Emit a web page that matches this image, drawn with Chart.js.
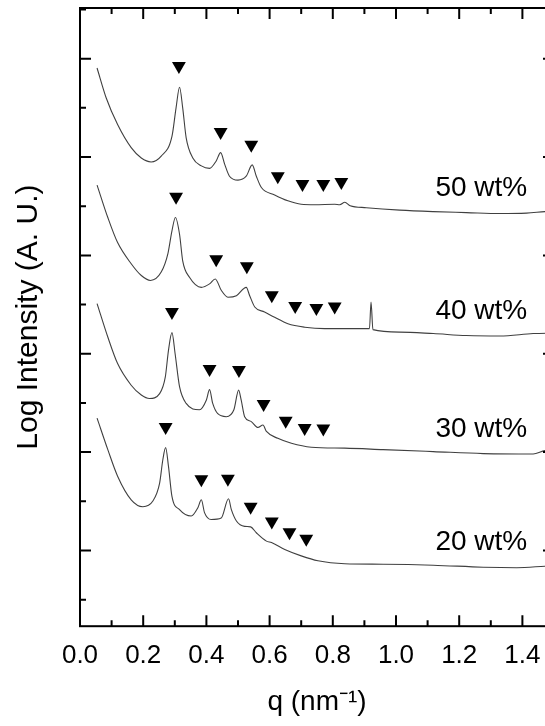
<!DOCTYPE html>
<html lang="en">
<head>
<meta charset="UTF-8">
<title>SAXS profiles</title>
<script src="https://cdn.jsdelivr.net/npm/chart.js"></script>
<style>
  html, body { margin: 0; padding: 0; background: #fff; overflow: hidden; }
</style>
</head>
<body>
<canvas id="saxs" width="570" height="740"></canvas>
<script>
// q (nm^-1) and log intensity (arbitrary, offset per sample)
const Q_50 = [0.054, 0.083, 0.119, 0.162, 0.194, 0.225, 0.257, 0.291, 0.304, 0.315, 0.325, 0.336, 0.357, 0.384, 0.410, 0.431, 0.445, 0.458, 0.473, 0.500, 0.526, 0.545, 0.558, 0.574, 0.616, 0.658, 0.700, 0.743, 0.806, 0.822, 0.838, 0.855, 0.906, 1.012, 1.118, 1.223, 1.329, 1.413, 1.471, 1.500];
const I_50 = [10.81, 10.20, 9.66, 9.19, 8.98, 8.90, 9.02, 9.42, 10.00, 10.42, 10.00, 9.39, 8.98, 8.82, 8.77, 8.92, 9.09, 8.85, 8.61, 8.53, 8.61, 8.84, 8.61, 8.38, 8.23, 8.11, 8.04, 8.03, 8.04, 8.03, 8.08, 8.01, 7.97, 7.92, 7.89, 7.87, 7.85, 7.86, 7.89, 7.90];

const Q_40 = [0.054, 0.088, 0.119, 0.162, 0.194, 0.223, 0.257, 0.278, 0.291, 0.302, 0.315, 0.325, 0.347, 0.384, 0.410, 0.428, 0.447, 0.468, 0.495, 0.526, 0.537, 0.553, 0.584, 0.616, 0.658, 0.711, 0.774, 0.838, 0.916, 0.921, 0.927, 1.012, 1.118, 1.223, 1.329, 1.434, 1.500];
const I_40 = [8.43, 7.77, 7.26, 6.83, 6.59, 6.49, 6.66, 7.03, 7.50, 7.77, 7.43, 6.89, 6.55, 6.35, 6.42, 6.52, 6.29, 6.15, 6.18, 6.35, 6.18, 5.95, 5.85, 5.74, 5.61, 5.54, 5.51, 5.51, 5.51, 6.05, 5.49, 5.44, 5.41, 5.37, 5.36, 5.41, 5.42];

const Q_30 = [0.054, 0.088, 0.119, 0.162, 0.194, 0.220, 0.252, 0.270, 0.280, 0.291, 0.301, 0.315, 0.336, 0.378, 0.400, 0.410, 0.420, 0.436, 0.463, 0.487, 0.502, 0.510, 0.521, 0.542, 0.563, 0.579, 0.590, 0.626, 0.669, 0.732, 0.838, 0.959, 1.118, 1.276, 1.434, 1.471, 1.500];
const I_30 = [6.02, 5.34, 4.80, 4.36, 4.16, 4.09, 4.19, 4.53, 5.07, 5.43, 5.00, 4.33, 3.99, 3.86, 4.06, 4.27, 3.99, 3.78, 3.72, 3.86, 4.26, 4.06, 3.72, 3.62, 3.50, 3.55, 3.42, 3.28, 3.18, 3.10, 3.08, 3.05, 3.01, 2.97, 2.96, 3.03, 3.04];

const Q_20 = [0.054, 0.088, 0.119, 0.162, 0.199, 0.230, 0.252, 0.262, 0.271, 0.280, 0.291, 0.315, 0.352, 0.373, 0.384, 0.394, 0.415, 0.447, 0.470, 0.479, 0.495, 0.521, 0.540, 0.558, 0.590, 0.606, 0.648, 0.700, 0.753, 0.838, 0.959, 1.118, 1.276, 1.382, 1.471, 1.500];
const I_20 = [3.69, 3.05, 2.51, 2.03, 1.89, 2.00, 2.37, 2.84, 3.09, 2.71, 2.10, 1.83, 1.70, 1.87, 2.03, 1.77, 1.63, 1.66, 2.05, 1.83, 1.60, 1.49, 1.48, 1.36, 1.19, 1.16, 1.02, 0.89, 0.79, 0.73, 0.72, 0.70, 0.66, 0.65, 0.68, 0.69];

// peak markers (down triangles)
const PEAK_Q_50 = [0.313, 0.445, 0.542, 0.626, 0.704, 0.770, 0.827];
const PEAK_I_50 = [10.85, 9.51, 9.25, 8.61, 8.45, 8.45, 8.49];
const PEAK_Q_40 = [0.304, 0.431, 0.528, 0.607, 0.681, 0.748, 0.806];
const PEAK_I_40 = [8.19, 6.92, 6.78, 6.19, 5.97, 5.93, 5.96];
const PEAK_Q_30 = [0.291, 0.410, 0.503, 0.581, 0.651, 0.711, 0.770];
const PEAK_I_30 = [5.85, 4.69, 4.67, 3.98, 3.64, 3.49, 3.48];
const PEAK_Q_20 = [0.271, 0.384, 0.468, 0.540, 0.607, 0.663, 0.716];
const PEAK_I_20 = [3.51, 2.45, 2.46, 1.89, 1.59, 1.37, 1.24];

const SAMPLES = ['50 wt%', '40 wt%', '30 wt%', '20 wt%'];
const X_TICKS = [0, 0.1, 0.2, 0.3, 0.4, 0.5, 0.6, 0.7, 0.8, 0.9, 1.0, 1.1, 1.2, 1.3, 1.4, 1.5];
const X_TICK_LABELS = ['0.0', '', '0.2', '', '0.4', '', '0.6', '', '0.8', '', '1.0', '', '1.2', '', '1.4', ''];
const Y_TICKS = [0, 1, 2, 3, 4, 5, 6, 7, 8, 9, 10, 11, 12];
const LABEL_Q = 1.27;

const FONT = "'Liberation Sans', Arial, sans-serif";
Chart.defaults.font.family = FONT;
Chart.defaults.color = '#000';

const curves = [[Q_50, I_50], [Q_40, I_40], [Q_30, I_30], [Q_20, I_20]];
const peaks = [[PEAK_Q_50, PEAK_I_50], [PEAK_Q_40, PEAK_I_40], [PEAK_Q_30, PEAK_I_30], [PEAK_Q_20, PEAK_I_20]];
const toXY = (qs, is) => qs.map((q, i) => ({ x: q, y: is[i] }));

const datasets = [];
curves.forEach(([q, v], k) => {
    datasets.push({
        label: SAMPLES[k],
        data: toXY(q, v),
        showLine: true,
        borderColor: '#404040',
        borderWidth: 1.1,
        pointRadius: 0,
        cubicInterpolationMode: 'monotone'
    });
});
peaks.forEach(([q, v], k) => {
    datasets.push({
        label: SAMPLES[k] + ' peaks',
        data: toXY(q, v),
        showLine: false,
        pointStyle: 'triangle',
        pointRotation: 180,
        pointRadius: 8,
        pointBackgroundColor: '#000',
        pointBorderWidth: 0
    });
});

// box, inward ticks on all four sides, sample labels
const frame = {
    id: 'frame',
    afterDraw(chart) {
        const { ctx, chartArea: a, scales: { x, y } } = chart;
        ctx.save();
        ctx.strokeStyle = '#000';
        ctx.lineWidth = 2;
        ctx.strokeRect(a.left, a.top, a.right - a.left, a.bottom - a.top);
        ctx.beginPath();
        x.ticks.forEach((t, i) => {
            const px = x.getPixelForValue(t.value);
            const len = X_TICK_LABELS[i] ? 11 : 6;
            ctx.moveTo(px, a.bottom); ctx.lineTo(px, a.bottom - len);
            ctx.moveTo(px, a.top); ctx.lineTo(px, a.top + len);
        });
        y.ticks.forEach(t => {
            const py = y.getPixelForValue(t.value);
            const len = t.value % 2 ? 11 : 6;
            ctx.moveTo(a.left, py); ctx.lineTo(a.left + len, py);
            ctx.moveTo(a.right, py); ctx.lineTo(a.right - len, py);
        });
        ctx.stroke();

        ctx.font = '28px ' + FONT;
        ctx.fillStyle = '#000';
        ctx.textAlign = 'center';
        ctx.textBaseline = 'alphabetic';
        curves.forEach(([q, v], k) => {
            let j = 0;
            q.forEach((qq, i) => { if (Math.abs(qq - LABEL_Q) < Math.abs(q[j] - LABEL_Q)) j = i; });
            ctx.fillText(SAMPLES[k], x.getPixelForValue(LABEL_Q), y.getPixelForValue(v[j]) - 17);
        });
        ctx.restore();
    }
};

new Chart(document.getElementById('saxs'), {
    type: 'scatter',
    data: { datasets },
    options: {
        responsive: false,
        animation: false,
        events: [],
        layout: { padding: { left: 0, top: 5, right: 16, bottom: 21 } },
        plugins: { legend: { display: false }, tooltip: { enabled: false } },
        scales: {
            x: {
                type: 'linear',
                min: 0,
                max: 1.5,
                afterBuildTicks: s => { s.ticks = X_TICKS.map(v => ({ value: v })); },
                ticks: {
                    autoSkip: false,
                    maxRotation: 0,
                    padding: 14,
                    font: { size: 26 },
                    callback: (v, i) => X_TICK_LABELS[i]
                },
                grid: { display: false, drawTicks: false },
                border: { display: false },
                title: {
                    display: true,
                    text: 'q (nm⁻¹)',
                    font: { size: 28 },
                    padding: { top: 0, bottom: 0 }
                }
            },
            y: {
                type: 'linear',
                min: -0.54,
                max: 12.03,
                afterBuildTicks: s => { s.ticks = Y_TICKS.map(v => ({ value: v })); },
                ticks: { display: false },
                grid: { display: false, drawTicks: false },
                border: { display: false },
                title: {
                    display: true,
                    text: 'Log Intensity (A. U.)',
                    font: { size: 30 },
                    padding: { top: 11, bottom: 33 }
                }
            }
        }
    },
    plugins: [frame]
});
</script>
</body>
</html>
